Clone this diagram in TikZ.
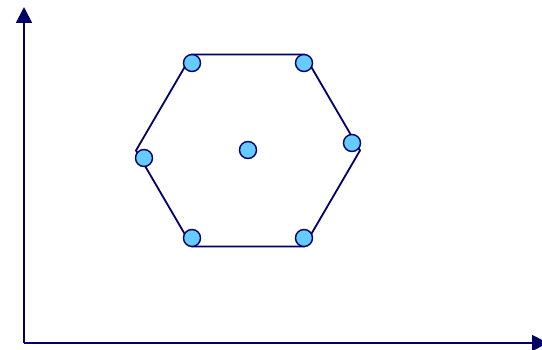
\documentclass[tikz,border=0pt]{standalone}
\usetikzlibrary{arrows.meta}
\definecolor{navy}{HTML}{000066}
\definecolor{dotblue}{HTML}{66CCFF}
\begin{document}
\begin{tikzpicture}[x=1pt,y=-1pt,
  edge/.style={draw=navy,line width=1.8pt},
  axis/.style={draw=navy,line width=1.8pt,-{Triangle[width=16pt,length=16pt]}},
  dot/.style={circle,draw=navy,fill=dotblue,line width=1.4pt,minimum size=17pt,inner sep=0pt}]
\useasboundingbox (0,0) rectangle (542,350);
\coordinate (O) at (24,343);
\coordinate (Y) at (24,7);
\coordinate (X) at (548,343);
\draw[axis] (O) -- (Y);
\draw[axis] (O) -- (X);
\coordinate (v1) at (192,54.5);
\coordinate (v2) at (304,54.5);
\coordinate (v3) at (360,150.5);
\coordinate (v4) at (304,246.5);
\coordinate (v5) at (192,246.5);
\coordinate (v6) at (136,150.5);
\draw[edge,line join=miter] (v1) -- (v2) -- (v3) -- (v4) -- (v5) -- (v6) -- cycle;
\node[dot] (p1) at (192,63) {};
\node[dot] (p2) at (304,63) {};
\node[dot] (p3) at (352,143) {};
\node[dot] (p4) at (304,238) {};
\node[dot] (p5) at (192,238) {};
\node[dot] (p6) at (144,158) {};
\node[dot] (c) at (248,150) {};
\end{tikzpicture}
\end{document}
